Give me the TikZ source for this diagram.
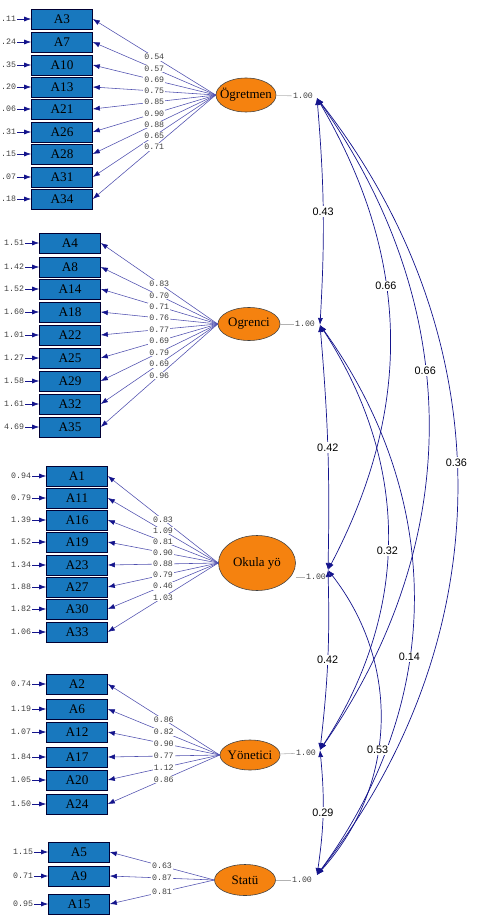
\documentclass[tikz,border=0pt]{standalone}
\usepackage{fontspec}
\setmainfont{Liberation Serif}
\setsansfont{Liberation Sans}
\setmonofont{Liberation Mono}
\usepackage{xcolor}
\usetikzlibrary{positioning,shapes.geometric,arrows.meta}

\definecolor{boxblue}{RGB}{24,120,190}
\definecolor{latorange}{RGB}{245,130,15}
\definecolor{pathnavy}{RGB}{20,20,140}
\definecolor{loadline}{RGB}{80,80,175}

\begin{document}
\begin{tikzpicture}[x=0.025cm, y=-0.025cm,
  obs/.style={draw=black!80!blue, fill=boxblue, minimum width=1.525cm, minimum height=0.5cm, inner sep=0pt, font=\fontsize{9.4}{10}\selectfont},
  lat/.style={ellipse, draw=black!75, fill=latorange, inner sep=0pt, font=\fontsize{9.2}{10}\selectfont},
  valtext/.style={font=\ttfamily\fontsize{5.9}{6}\selectfont, text=black!75, inner sep=0.6pt},
  covlabel/.style={font=\sffamily\fontsize{7.7}{8}\selectfont, fill=white, inner sep=1pt},
  navyarrow/.style={-{Latex[length=5pt,width=3.6pt]}, draw=pathnavy, line width=0.5pt},
  loading/.style={-{Latex[length=5pt,width=3.6pt,color=pathnavy]}, draw=loadline, line width=0.4pt},
  twoway/.style={{Latex[length=5pt,width=3.6pt]}-{Latex[length=5pt,width=3.6pt]}, draw=pathnavy, line width=0.5pt}
]
  \useasboundingbox (0,0) rectangle (480,918);

  % Latent variables
  \node[lat, minimum width=1.5cm, minimum height=0.85cm] (ogretmen) at (246,95) {\makebox[0pt]{Ögretmen}};
  \node[lat, minimum width=1.55cm, minimum height=0.825cm] (ogrenci) at (249,324) {\makebox[0pt]{Ogrenci}};
  \node[lat, minimum width=1.925cm, minimum height=1.375cm] (okula) at (257,563) {\makebox[0pt]{Okula yö}};
  \node[lat, minimum width=1.5cm, minimum height=0.75cm] (yonetici) at (250,755) {\makebox[0pt]{Yönetici}};
  \node[lat, minimum width=1.525cm, minimum height=0.775cm] (statu) at (245,880) {\makebox[0pt]{Statü}};

  % Ogretmen items
  \foreach \n/\y/\e/\l in {A3/19/.11/0.54, A7/42/.24/0.57, A10/65/.35/0.69, A13/87/.20/0.75,
      A21/109/.06/0.85, A26/132/.31/0.90, A28/154/.15/0.88, A31/177/.07/0.65, A34/199/.18/0.71} {
    \node[obs] (\n) at (62,\y) {\n};
    \node[valtext, left=0.35cm of \n] (e\n) {\e};
    \draw[navyarrow] (e\n) -- (\n);
    \draw[loading] (ogretmen.west) -- (\n.east) node[valtext, midway, fill=white] {\l};
  }

  % Ogrenci items
  \foreach \n/\y/\e/\l in {A4/243/1.51/0.83, A8/267/1.42/0.70, A14/289/1.52/0.71, A18/312/1.60/0.76,
      A22/335/1.01/0.77, A25/358/1.27/0.69, A29/381/1.58/0.79, A32/404/1.61/0.69, A35/427/4.69/0.96} {
    \node[obs] (\n) at (70,\y) {\n};
    \node[valtext, left=0.35cm of \n] (e\n) {\e};
    \draw[navyarrow] (e\n) -- (\n);
    \draw[loading] (ogrenci.west) -- (\n.east) node[valtext, midway, fill=white] {\l};
  }

  % Okula yo items
  \foreach \n/\y/\e/\l in {A1/476/0.94/0.83, A11/498/0.79/1.09, A16/520/1.39/0.81, A19/542/1.52/0.90,
      A23/565/1.34/0.88, A27/587/1.88/0.79, A30/609/1.82/0.46, A33/632/1.06/1.03} {
    \node[obs] (\n) at (77,\y) {\n};
    \node[valtext, left=0.35cm of \n] (e\n) {\e};
    \draw[navyarrow] (e\n) -- (\n);
    \draw[loading] (okula.west) -- (\n.east) node[valtext, midway, fill=white] {\l};
  }

  % Yonetici items
  \foreach \n/\y/\e/\l in {A2/684/0.74/0.86, A6/709/1.19/0.82, A12/732/1.07/0.90,
      A17/757/1.84/0.77, A20/780/1.05/1.12, A24/804/1.50/0.86} {
    \node[obs] (\n) at (77,\y) {\n};
    \node[valtext, left=0.35cm of \n] (e\n) {\e};
    \draw[navyarrow] (e\n) -- (\n);
    \draw[loading] (yonetici.west) -- (\n.east) node[valtext, midway, fill=white] {\l};
  }

  % Statu items
  \foreach \n/\y/\e/\l in {A5/852/1.15/0.63, A9/876/0.71/0.87, A15/904/0.95/0.81} {
    \node[obs] (\n) at (79,\y) {\n};
    \node[valtext, left=0.35cm of \n] (e\n) {\e};
    \draw[navyarrow] (e\n) -- (\n);
    \draw[loading] (statu.west) -- (\n.east) node[valtext, midway, fill=white] {\l};
  }

  % Fixed variances
  \node[valtext] (v1) at (303,96) {1.00};
  \node[valtext] (v2) at (305,324) {1.00};
  \node[valtext] (v3) at (316,577) {1.00};
  \node[valtext] (v4) at (306,753) {1.00};
  \node[valtext] (v5) at (302,880) {1.00};
  \draw[gray!60] (ogretmen) -- (v1);
  \draw[gray!60] (ogrenci) -- (v2);
  \draw[gray!60] (okula.east |- v3) -- (v3);
  \draw[gray!60] (yonetici) -- (v4);
  \draw[gray!60] (statu) -- (v5);

  \coordinate (c1) at (317,98);
  \coordinate (c2) at (320,325);
  \coordinate (c3) at (328,570);
  \coordinate (c4) at (320,750);
  \coordinate (c5) at (317,875);

  % Correlations
  \draw[twoway] (c1) to[bend left=4] node[covlabel] {0.43} (c2);
  \draw[twoway] (c1) to[bend left=29] node[covlabel, pos=0.4] {0.66} (c3);
  \draw[twoway] (c1) to[bend left=35] node[covlabel, pos=0.42] {0.66} (c4);
  \draw[twoway] (c1) to[bend left=38] node[covlabel, pos=0.47] {0.36} (c5);
  \draw[twoway] (c2) to[bend left=3] node[covlabel] {0.42} (c3);
  \draw[twoway] (c2) to[bend left=33] node[covlabel, pos=0.53] {0.32} (c4);
  \draw[twoway] (c2) to[bend left=36] node[covlabel, pos=0.6] {0.14} (c5);
  \draw[twoway] (c3) to[bend left=4] node[covlabel] {0.42} (c4);
  \draw[twoway] (c3) to[bend left=40] node[covlabel, pos=0.58] {0.53} (c5);
  \draw[twoway] (c4) to[bend left=7] node[covlabel] {0.29} (c5);
\end{tikzpicture}
\end{document}
